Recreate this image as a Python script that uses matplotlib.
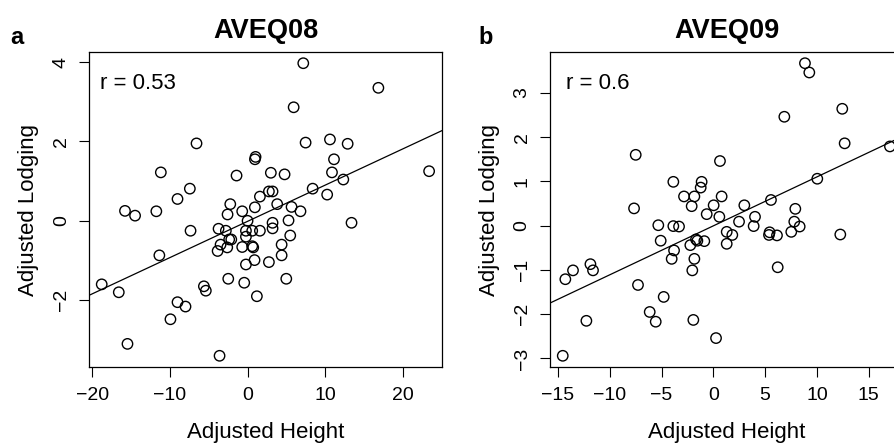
import numpy as np
import matplotlib
matplotlib.use('Agg')
import matplotlib.pyplot as plt

plt.rcParams['font.family'] = ['Liberation Sans', 'DejaVu Sans']

# AVEQ08 - adjusted height vs adjusted lodging
height_08 = [7.18, 16.86, 5.94, -6.58, 7.48, 10.62, 12.9, 1.03, 0.95, 11.14,
             -11.18, -1.42, 3.0, 4.77, 10.88, 23.4, 12.34, -7.44, -9.03, 1.59,
             2.75, 3.22, 8.39, 10.26, -15.8, -14.5, -11.76, -2.23, 0.94, 3.82,
             5.67, 6.82, -2.58, -0.69, 0.0, 5.28, 13.4, 3.22, 3.22, -7.35,
             -3.74, -2.8, -0.21, 0.6, 1.59, -0.21, 5.5, -2.37, -2.1, -3.48,
             4.39, -2.62, -0.69, 0.6, 0.73, -3.86, 0.9, -11.37, 4.39, -0.21,
             2.75, -2.49, 4.99, -0.43, -18.8, -5.63, -5.38, -16.6, 1.2, -9.03,
             -8.0, -9.94, -15.48, -3.61]
lodging_08 = [3.97, 3.35, 2.86, 1.95, 1.97, 2.05, 1.94, 1.61, 1.55, 1.55,
              1.22, 1.14, 1.21, 1.17, 1.22, 1.25, 1.04, 0.81, 0.55, 0.61,
              0.74, 0.74, 0.81, 0.66, 0.25, 0.13, 0.24, 0.42, 0.34, 0.42,
              0.35, 0.24, 0.16, 0.24, 0.0, 0.01, -0.05, -0.05, -0.19, -0.25,
              -0.2, -0.25, -0.25, -0.25, -0.25, -0.4, -0.37, -0.47, -0.47, -0.6,
              -0.6, -0.67, -0.66, -0.64, -0.67, -0.76, -0.99, -0.87, -0.87, -1.1,
              -1.04, -1.46, -1.46, -1.56, -1.6, -1.65, -1.76, -1.8, -1.9, -2.05,
              -2.16, -2.48, -3.1, -3.4]

# AVEQ09
height_09 = [8.84, 9.26, 12.44, 6.85, 12.67, 17.04, -7.49, 0.64, 10.03, -3.86,
             -1.13, -1.22, -2.83, -1.83, 0.8, 5.56, -2.09, 0.03, 2.99, -7.65,
             7.91, -0.64, 0.58, 4.02, 2.48, 7.81, -5.31, -3.86, -3.31, 3.89,
             8.33, 7.52, 1.29, 5.43, 1.83, 5.37, 6.14, 12.25, -5.08, -1.67,
             -1.54, -0.87, -2.22, 1.29, -3.79, -4.02, -1.83, -11.86, -11.61, -13.54,
             -14.28, -2.03, 6.21, -7.27, -4.79, -6.14, -5.56, -12.25, -1.93, 0.26,
             -14.53]
lodging_09 = [3.67, 3.46, 2.64, 2.46, 1.86, 1.79, 1.6, 1.46, 1.06, 0.99,
              0.99, 0.86, 0.66, 0.66, 0.66, 0.58, 0.44, 0.46, 0.46, 0.39,
              0.38, 0.26, 0.2, 0.2, 0.09, 0.09, 0.01, -0.01, -0.02, -0.01,
              -0.02, -0.14, -0.14, -0.15, -0.21, -0.21, -0.22, -0.2, -0.34, -0.31,
              -0.34, -0.35, -0.44, -0.41, -0.56, -0.75, -0.75, -0.87, -1.01, -1.01,
              -1.21, -1.01, -0.94, -1.34, -1.61, -1.95, -2.17, -2.15, -2.13, -2.54,
              -2.94]

titles = ['AVEQ08', 'AVEQ09']
panel_letters = ['a', 'b']
r_labels = ['r = 0.53', 'r = 0.6']
xticks = [[-20, -10, 0, 10, 20], [-15, -10, -5, 0, 5, 10, 15]]
yticks = [[-2, 0, 2, 4], [-3, -2, -1, 0, 1, 2, 3]]
xlims = [(-20.4, 25.1), (-15.76, 18.3)]
ylims = [(-3.69, 4.26), (-3.2, 3.93)]

fig = plt.figure(figsize=(8.95, 4.45), dpi=100)

W, H = 895, 445
# panel boxes in pixels: left, top, width, height (panel b runs off the right edge)
boxes = [(89.3, 51.7, 353, 315.6), (550, 51.7, 353, 315.6)]
data = [(height_08, lodging_08), (height_09, lodging_09)]

for i in range(2):
    x0, top, w, h = boxes[i]
    ax = fig.add_axes([x0 / W, (H - top - h) / H, w / W, h / H])
    x = np.array(data[i][0])
    y = np.array(data[i][1])

    ax.scatter(x, y, s=56, facecolors='none', edgecolors='black', linewidths=1.0, zorder=3)

    # least squares line
    slope, intercept = np.polyfit(x, y, 1)
    xx = np.array(xlims[i])
    ax.plot(xx, slope * xx + intercept, color='black', lw=0.9)

    ax.set_xlim(xlims[i])
    ax.set_ylim(ylims[i])
    ax.set_xticks(xticks[i])
    ax.set_yticks(yticks[i])
    ax.set_xticklabels([str(t).replace('-', '\u2212') for t in xticks[i]])
    ax.set_yticklabels([str(t).replace('-', '\u2212') for t in yticks[i]],
                       rotation=90, va='center')
    ax.tick_params(direction='out', length=7, width=0.8, labelsize=14, pad=7)
    for s in ax.spines.values():
        s.set_linewidth(0.9)

    ax.set_xlabel('Adjusted Height', fontsize=16, labelpad=13)
    ax.set_ylabel('Adjusted Lodging', fontsize=16, labelpad=10)
    ax.set_title(titles[i], fontsize=19.5, fontweight='bold', pad=10)
    ax.text(0.03 if i == 0 else 0.044, 0.90, r_labels[i], transform=ax.transAxes,
            fontsize=16, va='center', ha='left')

    lx = 10 if i == 0 else 478
    fig.text(lx / W, 1 - 38 / H, panel_letters[i], fontsize=17, fontweight='bold',
             va='center', ha='left')

fig.savefig('out.png', dpi=100)
